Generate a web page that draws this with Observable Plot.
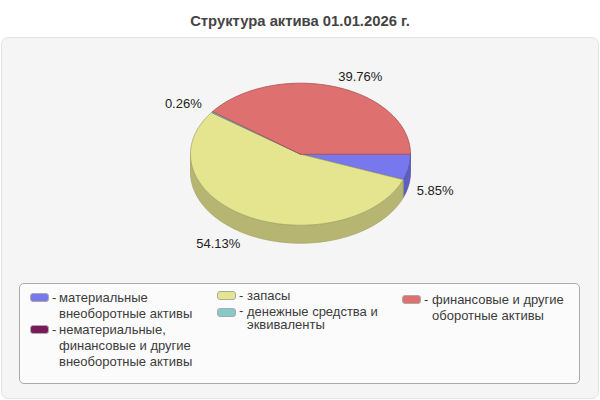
<!DOCTYPE html>
<html lang="ru">
<head>
<meta charset="utf-8">
<script src="https://cdn.jsdelivr.net/npm/d3@7"></script>
<script src="https://cdn.jsdelivr.net/npm/@observablehq/plot@0.6"></script>
<style>
html,body{margin:0;padding:0;background:#fff;}
#chart{position:relative;width:600px;height:400px;overflow:hidden;font-family:"Liberation Sans",Arial,sans-serif;}
#title{position:absolute;left:0;top:12px;width:600px;text-align:center;font-weight:bold;font-size:14.8px;line-height:18px;color:#444;}
#panel{position:absolute;left:1px;top:37px;width:596px;height:360px;background:#f5f5f5;border:1px solid #e4e4e4;border-radius:7px;}
#chart svg{position:absolute;left:0;top:0;}
#legend{position:absolute;left:19px;top:283px;width:559px;height:99px;background:#fbfbfb;border:1px solid #aaa;border-radius:5px;font-size:13px;color:#3c3c3c;}
.col{position:absolute;}
.col1{left:10px;top:6px;width:180px;}
.col2{left:197px;top:4px;width:175px;}
.col3{left:382px;top:8px;width:170px;}
.item{position:relative;padding-left:30px;line-height:16px;}
.col1 .item{padding-left:29px;}
.col2 .item.tight{line-height:12.5px;padding-top:1px;}
.col2 .item{margin-bottom:1px;}
.swatch{position:absolute;left:0;top:3px;width:17px;height:7px;border:1px solid #aaa;border-radius:3px;}
.dash{position:absolute;left:22px;top:0;}
</style>
</head>
<body>
<div id="chart">
  <div id="panel"></div>
  <div id="title"></div>
  <div id="legend"></div>
</div>
<script>
const chartTitle = "Структура актива 01.01.2026 г.";
const categories = [
  "материальные внеоборотные активы",
  "нематериальные, финансовые и другие внеоборотные активы",
  "запасы",
  "денежные средства и эквиваленты",
  "финансовые и другие оборотные активы"
];
const legendLines = [
  ["материальные", "внеоборотные активы"],
  ["нематериальные,", "финансовые и другие", "внеоборотные активы"],
  ["запасы"],
  ["денежные средства и", "эквиваленты"],
  ["финансовые и другие", "оборотные активы"]
];
const legendColumns = [1, 1, 2, 2, 3];
const values = [5.85, 0, 54.13, 0.26, 39.76];
const colors = ["#7777ee", "#7a1a5a", "#e5e590", "#88c8c8", "#df7070"];

const depth = 18 / 71;        // wall height in units of the vertical radius
const labelRadius = 1.07;
const total = d3.sum(values);
const tau = 2 * Math.PI;

let acc = 0;
const slices = values.map((v, i) => {
  const a0 = acc / total * tau;
  acc += v;
  return {i, value: v, color: colors[i], a0, a1: acc / total * tau};
});

const arc = (a0, a1, dy = 0) => {
  const n = Math.max(2, Math.ceil((a1 - a0) / (tau / 360)));
  return d3.range(n + 1).map(k => {
    const a = a0 + (a1 - a0) * k / n;
    return {x: Math.cos(a), y: Math.sin(a) + dy};
  });
};
const closed = pts => [...pts, pts[0]];
const edge = c => d3.color(c).darker(0.9).formatHex();

const walls = slices
  .filter(s => s.value > 0 && s.a0 < Math.PI)
  .map(s => {
    const end = Math.min(s.a1, Math.PI);
    const pts = closed([...arc(s.a0, end), ...arc(s.a0, end, depth).reverse()]);
    const side = d3.color(s.color).darker(0.65).formatHex();
    return Plot.line(pts, {x: "x", y: "y", fill: side, stroke: edge(s.color), strokeWidth: 0.8, strokeLinejoin: "round"});
  });

const tops = slices
  .filter(s => s.value > 0)
  .map(s => Plot.line(closed([{x: 0, y: 0}, ...arc(s.a0, s.a1)]), {
    x: "x", y: "y", fill: s.color, stroke: edge(s.color), strokeWidth: 0.8, strokeLinejoin: "round"
  }));

const labels = slices.filter(s => s.value > 0).map(s => {
  const mid = (s.a0 + s.a1) / 2;
  const lower = Math.sin(mid) > 0;
  return {
    x: labelRadius * Math.cos(mid),
    y: labelRadius * Math.sin(mid) + (lower ? depth : 0),
    text: s.value.toFixed(2) + "%",
    anchor: Math.cos(mid) >= 0 ? "start" : "end",
    line: lower ? "top" : "bottom"
  };
});
const labelMarks = ["start", "end"].flatMap(anchor => ["top", "bottom"].map(line =>
  Plot.text(labels.filter(d => d.anchor === anchor && d.line === line), {
    x: "x", y: "y", text: "text", textAnchor: anchor, lineAnchor: line,
    fontSize: 13, fill: "#222",
    dx: anchor === "end" ? -4 : 0.5,
    dy: line === "top" ? -0.5 : -1.5
  })
));

const plot = Plot.plot({
  width: 600, height: 400,
  margin: 0,
  x: {domain: [-1, 1], range: [190, 410], axis: null},
  y: {domain: [-1, 1], range: [82.7, 224.7], axis: null},
  style: {background: "transparent", fontFamily: "'Liberation Sans', Arial, sans-serif"},
  marks: [...walls, ...tops, ...labelMarks]
});
document.getElementById("chart").insertBefore(plot, document.getElementById("title"));

document.getElementById("title").textContent = chartTitle;

const legend = d3.select("#legend");
[1, 2, 3].forEach(c => {
  const col = legend.append("div").attr("class", "col col" + c);
  categories.forEach((name, i) => {
    if (legendColumns[i] !== c) return;
    const item = col.append("div").attr("class", "item" + (i === 3 ? " tight" : "")).attr("title", name);
    item.append("span").attr("class", "swatch").style("background", colors[i]);
    item.append("span").attr("class", "dash").text("-");
    legendLines[i].forEach(l => item.append("div").text(l));
  });
});
</script>
</body>
</html>
